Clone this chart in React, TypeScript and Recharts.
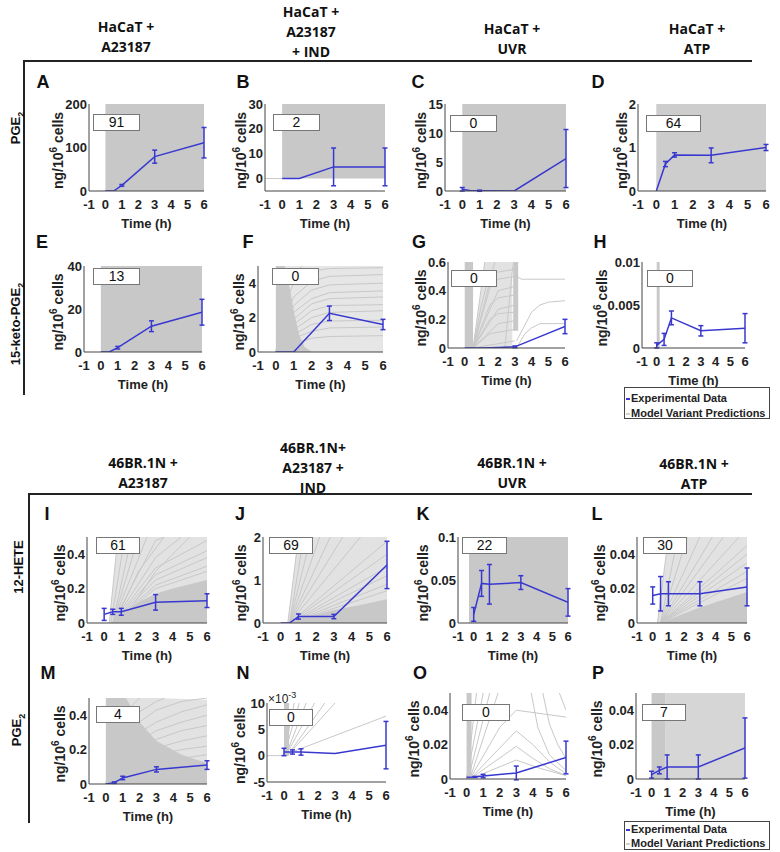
import React from "react";
import { ComposedChart, Line, Area, XAxis, YAxis, ReferenceArea, ErrorBar } from "recharts";

const BLUE = "#3838d0";
const GREY = "#c8c8c8";
const LIGHT = "#e2e2e2";
const LINE_GREY = "#c8c8c8";
const FONT = "'Liberation Sans', Arial, sans-serif";

const timeTicks = [-1, 0, 1, 2, 3, 4, 5, 6];
const zeroLead = [[-1, 0], [0, 0]];

// ---- experimental data (time, mean, error) ----
const timesA = [0, 0.5, 1, 3, 6];
const meanA = [0, 0, 13, 79, 111];
const errA = [0, 0, 2, 15, 35];
const timesB = [0, 1, 3, 6];
const meanB = [0, 0, 4.7, 4.7];
const errB = [0, 0, 7.6, 7.6];
const timesC = [0, 0.5, 1, 3, 6];
const meanC = [0.3, 0.05, 0.05, 0, 5.6];
const errC = [0.3, 0, 0.1, 0, 5];
const timesD = [0, 0.5, 1, 3, 6];
const meanD = [0, 0.62, 0.83, 0.82, 1.0];
const errD = [0, 0.06, 0.05, 0.17, 0.07];
const timesE = [0, 0.5, 1, 3, 6];
const meanE = [0, 0, 2, 12, 18.5];
const errE = [0, 0, 0.6, 2.5, 6];
const timesF = [0, 1, 3, 6];
const meanF = [0, 0, 2.25, 1.6];
const errF = [0, 0, 0.42, 0.3];
const timesG = [0, 0.5, 1, 2, 3, 6];
const meanG = [0, 0, 0, 0.003, 0.008, 0.15];
const errG = [0, 0, 0, 0, 0.006, 0.05];
const timesH = [0, 0.5, 1, 3, 6];
const meanH = [0.0003, 0.001, 0.0035, 0.002, 0.0023];
const errH = [0.0003, 0.0007, 0.0008, 0.0006, 0.0017];
const timesI = [0, 0.5, 1, 3, 6];
const meanI = [0.05, 0.065, 0.065, 0.12, 0.13];
const errI = [0.035, 0.015, 0.02, 0.045, 0.04];
const timesJ = [0, 0.5, 1, 3, 6];
const meanJ = [0, 0, 0.15, 0.15, 1.35];
const errJ = [0, 0, 0.06, 0.05, 0.55];
const timesK = [0, 0.5, 1, 3, 6];
const meanK = [0.01, 0.046, 0.045, 0.047, 0.024];
const errK = [0.008, 0.015, 0.023, 0.008, 0.016];
const timesL = [0, 0.5, 1, 3, 6];
const meanL = [0.016, 0.017, 0.017, 0.017, 0.021];
const errL = [0.005, 0.01, 0.007, 0.007, 0.011];
const timesM = [0, 0.5, 1, 3, 6];
const meanM = [0, 0.008, 0.035, 0.085, 0.11];
const errM = [0, 0.004, 0.01, 0.015, 0.025];
const timesN = [0, 0.5, 1, 3, 6];
const meanN = [0.7, 0.7, 0.7, 0.4, 2.0]; // x 10^-3
const errN = [0.7, 0.4, 0.6, 0, 4.5];
const timesO = [0, 0.5, 1, 3, 6];
const meanO = [0.001, 0.0012, 0.0017, 0.0035, 0.0125];
const errO = [0, 0.0003, 0.001, 0.004, 0.0095];
const timesP = [0, 0.5, 1, 3, 6];
const meanP = [0.0025, 0.005, 0.007, 0.007, 0.018];
const errP = [0.002, 0.002, 0.007, 0.007, 0.0175];

// ---- model variant predictions: solid blocks [x1, x2, y1, y2], light/dense envelopes and single traces ----
const blocksA = [[0, 6, 0, 200]];
const blocksB = [[0, 6, 0, 30]];
const blocksC = [[0, 6, 0, 15]];
const blocksD = [[0, 6, 0, 2]];
const blocksE = [[0, 6, 0, 40]];
const lightF = [[0.5, 5], [6, 5]];
const denseF = [[0, 5], [0.5, 5], [0.8, 3.6], [1, 2.4], [1.3, 1], [1.6, 0.3], [2, 0]];
const modelF = [
  [[0, 0], [0.5, 3.5], [1, 4.6], [1.5, 5]],
  [[0, 0], [0.5, 2.8], [1, 4.0], [2, 4.7], [3, 4.85], [6, 4.9]],
  [[0, 0], [0.5, 2.0], [1, 3.2], [2, 4.1], [3, 4.4], [6, 4.5]],
  [[0, 0], [0.5, 1.6], [1, 2.7], [2, 3.6], [3, 3.9], [6, 4.0]],
  [[0, 0], [0.5, 1.3], [1, 2.3], [2, 3.1], [3, 3.45], [6, 3.55]],
  [[0, 0], [0.5, 1.0], [1, 1.9], [2, 2.8], [3, 3.1], [6, 3.2]],
  [[0, 0], [0.5, 0.8], [1, 1.6], [2, 2.4], [3, 2.7], [6, 2.75]],
  [[0, 0], [0.5, 0.6], [1, 1.3], [2, 2.0], [3, 2.3], [6, 2.4]],
  [[0, 0], [0.5, 0.5], [1, 1.0], [2, 1.6], [3, 1.8], [6, 1.85]],
  [[0, 0], [0.5, 0.4], [1, 0.8], [2, 1.2], [3, 1.4], [6, 1.45]],
  [[0, 0], [0.5, 0.3], [1, 0.5], [2, 0.8], [3, 0.9], [6, 0.95]],
];
const blocksG = [[0, 0.5, 0, 0.6], [2.9, 3.2, 0.12, 0.6]];
const lightG = [[0.5, 0], [1.2, 0.6], [2.85, 0.6], [2.85, 0]];
const modelG = [
  [[0.5, 0], [1.2, 0.6]],
  [[0.5, 0], [1.8, 0.6]],
  [[0.5, 0], [1, 0.3], [1.5, 0.52], [3, 0.55]],
  [[0.5, 0], [1.5, 0.42], [2, 0.48], [3, 0.5]],
  [[0.5, 0], [2, 0.4], [3, 0.43]],
  [[0.5, 0], [1.5, 0.3], [2, 0.35], [3, 0.37]],
  [[0.5, 0], [2, 0.27], [3, 0.3]],
  [[0.5, 0], [1.5, 0.2], [2, 0.24], [3, 0.25]],
  [[0.5, 0], [2, 0.17], [3, 0.19]],
  [[0.5, 0], [1.5, 0.1], [3, 0.13]],
  [[0.5, 0], [3, 0.05]],
  [[2.4, 0], [2.9, 0.6]],
  [[3.1, 0.5], [3.4, 0.48], [6, 0.48]],
  [[3.1, 0.05], [3.6, 0.16], [4, 0.25], [4.5, 0.3], [5, 0.32], [6, 0.33]],
  [[3.2, 0.02], [3.6, 0.1], [4, 0.14], [4.5, 0.17], [6, 0.17]],
];
const blocksH = [[0, 0.2, 0, 0.01]];
const lightI = [[0.3, 0], [0.8, 0.5], [6, 0.5]];
const denseI = [[0.5, 0], [1, 0.05], [2, 0.12], [3, 0.17], [4, 0.2], [6, 0.25]];
const modelI = [
  [[0.3, 0], [0.8, 0.5]],
  [[0.4, 0], [1.2, 0.5]],
  [[0.5, 0], [1.6, 0.5]],
  [[0.5, 0], [2, 0.5]],
  [[0.5, 0], [2.5, 0.5]],
  [[0.5, 0], [3, 0.48], [3.5, 0.5]],
  [[0.5, 0], [3, 0.38], [4.5, 0.5]],
  [[0.5, 0], [3, 0.32], [6, 0.48]],
  [[0.5, 0], [3, 0.28], [6, 0.42]],
  [[0.5, 0], [3, 0.25], [6, 0.38]],
  [[0.5, 0], [3, 0.22], [6, 0.33]],
  [[0.5, 0], [3, 0.2], [6, 0.3]],
  [[1, 0], [3, 0.3], [5, 0.5]],
  [[0.6, 0], [2, 0.3], [3.5, 0.5]],
];
const lightJ = [[0.4, 0], [1, 2], [6, 2]];
const denseJ = [[0.5, 0], [1, 0.08], [3, 0.3], [4.5, 0.42], [6, 0.55]];
const modelJ = [
  [[0.4, 0], [1, 2]],
  [[0.5, 0], [1.3, 2]],
  [[0.5, 0], [1.7, 2]],
  [[0.5, 0], [2.2, 2]],
  [[0.5, 0], [2.8, 2]],
  [[0.5, 0], [3.5, 2]],
  [[0.5, 0], [4.5, 2]],
  [[0.5, 0], [6, 1.9]],
  [[0.5, 0], [6, 1.6]],
  [[0.5, 0], [6, 1.3]],
  [[0.5, 0], [6, 1.1]],
  [[0.5, 0], [6, 0.9]],
  [[0.5, 0], [6, 0.75]],
];
const blocksK = [[-0.3, 6, 0, 0.1]];
const lightL = [[0.3, 0], [1, 0.05], [6, 0.05]];
const denseL = [[0.5, 0], [1, 0.002], [3, 0.009], [6, 0.018]];
const modelL = [
  [[0.3, 0], [1, 0.05]],
  [[0.5, 0], [1.6, 0.05]],
  [[0.5, 0], [2.2, 0.05]],
  [[0.5, 0], [3, 0.05]],
  [[0.5, 0], [3.8, 0.05]],
  [[0.5, 0], [4.5, 0.05]],
  [[0.5, 0], [5.5, 0.05]],
  [[0.5, 0], [6, 0.045]],
  [[0.5, 0], [6, 0.04]],
  [[0.5, 0], [6, 0.035]],
  [[0.5, 0], [6, 0.03]],
  [[0.5, 0], [6, 0.026]],
];
const lightM = [[1.2, 0.5], [3, 0.5], [6, 0.49]];
const denseM = [[0, 0.5], [1.2, 0.5], [2, 0.36], [3, 0.25], [4.5, 0.17], [6, 0.12]];
const modelM = [
  [[0, 0], [0.8, 0.5]],
  [[0, 0], [1.5, 0.45], [2, 0.5]],
  [[0, 0], [2, 0.42], [3, 0.48], [3.5, 0.5]],
  [[0, 0], [2, 0.36], [3, 0.43], [4.5, 0.48], [6, 0.5]],
  [[0, 0], [2, 0.3], [3, 0.36], [4.5, 0.42], [6, 0.46]],
  [[0, 0], [2, 0.25], [3, 0.31], [4.5, 0.36], [6, 0.4]],
  [[0, 0], [2, 0.21], [3, 0.26], [4.5, 0.31], [6, 0.34]],
  [[0, 0], [2, 0.17], [3, 0.21], [4.5, 0.25], [6, 0.28]],
  [[0, 0], [2, 0.13], [3, 0.17], [4.5, 0.2], [6, 0.22]],
  [[0, 0], [2, 0.1], [3, 0.12], [4.5, 0.15], [6, 0.17]],
];
const blocksN = [[0, 0.3, 0, 10]];
const modelN = [
  zeroLead,
  [[0, 0], [0.6, 10]],
  [[0, 0], [0.9, 10]],
  [[0.1, 0], [1.3, 10]],
  [[0.1, 0], [1.8, 10]],
  [[0.2, 0], [2.4, 10]],
  [[0.2, 0], [3, 10]],
  [[0.3, 0.5], [6, 7.5]],
];
const blocksO = [[0, 0.3, 0, 0.05]];
const modelO = [
  [[0, 0], [0.6, 0.05]],
  [[0, 0], [1, 0.05]],
  [[0.1, 0], [1.4, 0.05]],
  [[0.2, 0], [1.9, 0.05]],
  [[0.2, 0], [2, 0.03], [3, 0.04], [6, 0.036]],
  [[0.2, 0], [3, 0.028], [4, 0.02], [5, 0.01], [6, 0.003]],
  [[0.2, 0], [3, 0.019], [4, 0.012], [5, 0.006], [6, 0.002]],
  [[0.2, 0], [3, 0.011], [4.5, 0.006], [6, 0.002]],
  [[3.9, 0.05], [4.3, 0.03], [5, 0.014], [6, 0.005]],
  [[4.6, 0.05], [5, 0.032], [5.5, 0.02], [6, 0.012]],
  [[5.6, 0.05], [6, 0.04]],
];
const blocksP = [[0, 0.9, 0, 0.05]];
const lightP = [[0.9, 0.05], [6, 0.05]];

interface PanelDef {
  letter: string;
  count: string;
  left: number;
  top: number;
  w: number;
  h: number;
  domain: [number, number];
  ticks: number[];
  gap: number;
  times: number[];
  mean: number[];
  err: number[];
  blocks?: number[][];
  blockFill?: string;
  light?: number[][];
  lightFill?: string;
  dense?: number[][];
  model?: number[][][];
  box: [number, number, number];
  letterAt: [number, number];
}

const panels: PanelDef[] = [
  { letter: "A", count: "91", left: 89, top: 104, w: 115, h: 87, domain: [0, 200], ticks: [0, 100, 200], gap: 31, times: timesA, mean: meanA, err: errA, blocks: blocksA, box: [93, 114, 47], letterAt: [43, 82] },
  { letter: "B", count: "2", left: 265, top: 104, w: 120, h: 87, domain: [-5, 30], ticks: [0, 10, 20, 30], gap: 24, times: timesB, mean: meanB, err: errB, blocks: blocksB, model: [zeroLead], box: [273, 114, 47], letterAt: [243, 82] },
  { letter: "C", count: "0", left: 445, top: 104, w: 121, h: 87, domain: [0, 15], ticks: [0, 5, 10, 15], gap: 24, times: timesC, mean: meanC, err: errC, blocks: blocksC, box: [450, 115, 47], letterAt: [418, 82] },
  { letter: "D", count: "64", left: 638, top: 104, w: 128, h: 87, domain: [0, 2], ticks: [0, 1, 2], gap: 16, times: timesD, mean: meanD, err: errD, blocks: blocksD, blockFill: "#cdcdcd", box: [646, 115, 55], letterAt: [598, 82] },
  { letter: "E", count: "13", left: 84, top: 266, w: 118, h: 86, domain: [0, 40], ticks: [0, 20, 40], gap: 26, times: timesE, mean: meanE, err: errE, blocks: blocksE, box: [93, 268, 47], letterAt: [42, 242] },
  { letter: "F", count: "0", left: 258, top: 266, w: 125, h: 86, domain: [0, 5], ticks: [0, 2, 4], gap: 19, times: timesF, mean: meanF, err: errF, light: lightF, lightFill: "#e6e6e6", dense: denseF, model: modelF, box: [272, 268, 47], letterAt: [248, 242] },
  { letter: "G", count: "0", left: 448, top: 262, w: 117, h: 86, domain: [0, 0.6], ticks: [0, 0.2, 0.4, 0.6], gap: 27, times: timesG, mean: meanG, err: errG, blocks: blocksG, light: lightG, model: modelG, box: [451, 270, 46], letterAt: [419, 242] },
  { letter: "H", count: "0", left: 642, top: 262, w: 103, h: 86, domain: [0, 0.01], ticks: [0, 0.005, 0.01], gap: 40, times: timesH, mean: meanH, err: errH, blocks: blocksH, model: [zeroLead], box: [647, 270, 46], letterAt: [600, 242] },
  { letter: "I", count: "61", left: 87, top: 537, w: 120, h: 86, domain: [0, 0.5], ticks: [0, 0.2, 0.4], gap: 27, times: timesI, mean: meanI, err: errI, light: lightI, dense: denseI, model: modelI, box: [96, 537, 44], letterAt: [47, 514] },
  { letter: "J", count: "69", left: 263, top: 537, w: 124, h: 86, domain: [0, 2], ticks: [0, 1, 2], gap: 22, times: timesJ, mean: meanJ, err: errJ, light: lightJ, dense: denseJ, model: modelJ, box: [269, 537, 44], letterAt: [240, 514] },
  { letter: "K", count: "22", left: 458, top: 537, w: 110, h: 86, domain: [0, 0.1], ticks: [0, 0.05, 0.1], gap: 35, times: timesK, mean: meanK, err: errK, blocks: blocksK, box: [462, 537, 45], letterAt: [423, 514] },
  { letter: "L", count: "30", left: 637, top: 537, w: 110, h: 86, domain: [0, 0.05], ticks: [0, 0.02, 0.04], gap: 37, times: timesL, mean: meanL, err: errL, light: lightL, dense: denseL, model: modelL, box: [643, 537, 44], letterAt: [597, 514] },
  { letter: "M", count: "4", left: 89, top: 698, w: 118, h: 86, domain: [0, 0.5], ticks: [0, 0.2, 0.4], gap: 29, times: timesM, mean: meanM, err: errM, light: lightM, dense: denseM, model: modelM, box: [96, 706, 44], letterAt: [48, 673] },
  { letter: "N", count: "0", left: 267, top: 703, w: 119, h: 79, domain: [-5, 10], ticks: [-5, 0, 5, 10], gap: 27, times: timesN, mean: meanN, err: errN, blocks: blocksN, model: modelN, box: [269, 709, 44], letterAt: [243, 673] },
  { letter: "O", count: "0", left: 450, top: 693, w: 116, h: 86, domain: [0, 0.05], ticks: [0, 0.02, 0.04], gap: 36, times: timesO, mean: meanO, err: errO, blocks: blocksO, model: modelO, box: [462, 704, 48], letterAt: [420, 673] },
  { letter: "P", count: "7", left: 636, top: 693, w: 109, h: 86, domain: [0, 0.05], ticks: [0, 0.02, 0.04], gap: 39, times: timesP, mean: meanP, err: errP, blocks: blocksP, light: lightP, lightFill: "#d6d6d6", box: [642, 704, 44], letterAt: [598, 673] },
];

const headers = [
  { x: 126, top: 17, lines: ["HaCaT +", "A23187"] },
  { x: 311, top: 2, lines: ["HaCaT +", "A23187", "+ IND"] },
  { x: 512, top: 19, lines: ["HaCaT +", "UVR"] },
  { x: 697, top: 19, lines: ["HaCaT +", "ATP"] },
  { x: 143, top: 453, lines: ["46BR.1N +", "A23187"] },
  { x: 313, top: 438, lines: ["46BR.1N+", "A23187 +", "IND"] },
  { x: 512, top: 453, lines: ["46BR.1N +", "UVR"] },
  { x: 694, top: 454, lines: ["46BR.1N +", "ATP"] },
];

const rowLabels = [
  { x: 17, y: 128, name: "PGE", sub: "2" },
  { x: 17, y: 324, name: "15-keto-PGE", sub: "2" },
  { x: 18, y: 567, name: "12-HETE", sub: "" },
  { x: 18, y: 730, name: "PGE", sub: "2" },
];

const YLabel = ({ gap, mid }: { gap: number; mid: number }) => (
  <text
    transform={`translate(${70 - gap},${mid}) rotate(-90)`}
    textAnchor="middle"
    dominantBaseline="central"
    fontSize={14}
    fontWeight="bold"
    fontFamily={FONT}
    fill="#222"
  >
    ng/10<tspan dy={-5} fontSize={10}>6</tspan>
    <tspan dy={5}> cells</tspan>
  </text>
);

const toPts = (pairs: number[][]) => pairs.map(([t, y]) => ({ t, y }));

const Panel = ({ p }: { p: PanelDef }) => {
  const exp = p.times.map((t, i) => ({ t, y: p.mean[i], e: p.err[i] }));
  const axisTick = { fontSize: 13, fontWeight: "bold", fill: "#222", fontFamily: FONT };
  return (
    <>
      <div style={{ position: "absolute", left: p.left - 70, top: p.top - 20, fontFamily: FONT }}>
        <ComposedChart width={p.w + 80} height={p.h + 65} margin={{ top: 20, right: 10, bottom: 5, left: 0 }} style={{ fontFamily: FONT }}>
          <XAxis
            type="number"
            dataKey="t"
            domain={[-1, 6]}
            ticks={timeTicks}
            interval={0}
            allowDataOverflow
            height={40}
            stroke="#444"
            tickLine={false}
            tickSize={4}
            tickMargin={5}
            tick={axisTick}
            label={{ value: "Time (h)", position: "insideBottom", offset: 3, fontSize: 13, fontWeight: "bold", fill: "#222", fontFamily: FONT }}
          />
          <YAxis
            type="number"
            domain={p.domain}
            ticks={p.ticks}
            interval={0}
            allowDataOverflow
            width={70}
            stroke="#444"
            tickLine={false}
            tickSize={1}
            tickMargin={1}
            tick={axisTick}
            label={<YLabel gap={p.gap} mid={20 + p.h / 2 + 3} />}
          />
          {p.light && (
            <Area data={toPts(p.light)} dataKey="y" type="linear" fill={p.lightFill || LIGHT} fillOpacity={1} stroke="none" isAnimationActive={false} legendType="none" />
          )}
          {(p.blocks || []).map((b, i) => (
            <ReferenceArea key={`b${i}`} x1={b[0]} x2={b[1]} y1={b[2]} y2={b[3]} fill={p.blockFill || GREY} fillOpacity={1} stroke="none" />
          ))}
          {p.dense && (
            <Area data={toPts(p.dense)} dataKey="y" type="linear" fill={GREY} fillOpacity={1} stroke="none" isAnimationActive={false} legendType="none" />
          )}
          {(p.model || []).map((m, i) => (
            <Line key={`m${i}`} data={toPts(m)} dataKey="y" type="linear" stroke={LINE_GREY} strokeWidth={1} dot={false} activeDot={false} isAnimationActive={false} legendType="none" />
          ))}
          <Line data={exp} dataKey="y" type="linear" stroke={BLUE} strokeWidth={1.5} dot={false} activeDot={false} isAnimationActive={false}>
            <ErrorBar dataKey="e" width={2.5} stroke={BLUE} strokeWidth={1.5} isAnimationActive={false} />
          </Line>
        </ComposedChart>
      </div>
      <div
        style={{
          position: "absolute",
          left: p.letterAt[0],
          top: p.letterAt[1],
          transform: "translate(-50%, -50%)",
          fontFamily: FONT,
          fontWeight: "bold",
          fontSize: 18,
          color: "#111",
        }}
      >
        {p.letter}
      </div>
      <div
        style={{
          position: "absolute",
          left: p.box[0],
          top: p.box[1],
          width: p.box[2],
          height: 17,
          boxSizing: "border-box",
          border: "1px solid #777",
          background: "#fff",
          fontFamily: FONT,
          fontSize: 14,
          lineHeight: "15px",
          textAlign: "center",
          color: "#111",
          zIndex: 2,
        }}
      >
        {p.count}
      </div>
    </>
  );
};

const LegendBox = ({ left, top, height, rows }: { left: number; top: number; height: number; rows: number[] }) => (
  <div
    style={{
      position: "absolute",
      left,
      top,
      width: 146,
      height,
      boxSizing: "border-box",
      border: "1px solid #444",
      background: "#fff",
      fontFamily: FONT,
      fontWeight: "bold",
      fontSize: 11,
      color: "#222",
    }}
  >
    {[
      { label: "Experimental Data", color: BLUE },
      { label: "Model Variant Predictions", color: "#d0d0d0" },
    ].map((r, i) => (
      <div key={r.label} style={{ position: "absolute", left: 1, top: rows[i] - 7, height: 14, lineHeight: "14px", whiteSpace: "nowrap" }}>
        <span style={{ display: "inline-block", width: 4, height: 1.5, background: r.color, verticalAlign: "middle", marginRight: 1 }} />
        {r.label}
      </div>
    ))}
  </div>
);

export default function App() {
  return (
    <div style={{ position: "absolute", left: 0, top: 0, width: 780, height: 852, background: "#fff", overflow: "hidden", fontFamily: FONT }}>
      {headers.map((h, i) => (
        <div
          key={i}
          style={{
            position: "absolute",
            left: h.x - 100,
            top: h.top,
            width: 200,
            textAlign: "center",
            fontFamily: "'Open Sans', sans-serif",
            fontWeight: 700,
            fontSize: 14,
            lineHeight: "20px",
            color: "#111",
          }}
        >
          {h.lines.map((l) => (
            <div key={l}>{l}</div>
          ))}
        </div>
      ))}
      <div style={{ position: "absolute", left: 24, top: 60, width: 728, height: 2, background: "#222" }} />
      <div style={{ position: "absolute", left: 23, top: 60, width: 2, height: 335, background: "#222" }} />
      <div style={{ position: "absolute", left: 29, top: 493, width: 723, height: 2, background: "#222" }} />
      <div style={{ position: "absolute", left: 28, top: 493, width: 2, height: 330, background: "#222" }} />
      {rowLabels.map((r, i) => (
        <div
          key={i}
          style={{
            position: "absolute",
            left: r.x,
            top: r.y,
            transform: "translate(-50%, -50%) rotate(-90deg)",
            whiteSpace: "nowrap",
            fontFamily: FONT,
            fontWeight: "bold",
            fontSize: 13,
            color: "#111",
          }}
        >
          {r.name}
          {r.sub && <sub style={{ fontSize: 9 }}>{r.sub}</sub>}
        </div>
      ))}
      {panels.map((p) => (
        <Panel key={p.letter} p={p} />
      ))}
      <div style={{ position: "absolute", left: 268, top: 691, fontFamily: FONT, fontSize: 12, color: "#222", lineHeight: 1 }}>
        ×10<sup style={{ fontSize: 9 }}>-3</sup>
      </div>
      <LegendBox left={624} top={387} height={32} rows={[10, 25]} />
      <LegendBox left={624} top={821} height={29} rows={[7, 21]} />
    </div>
  );
}
